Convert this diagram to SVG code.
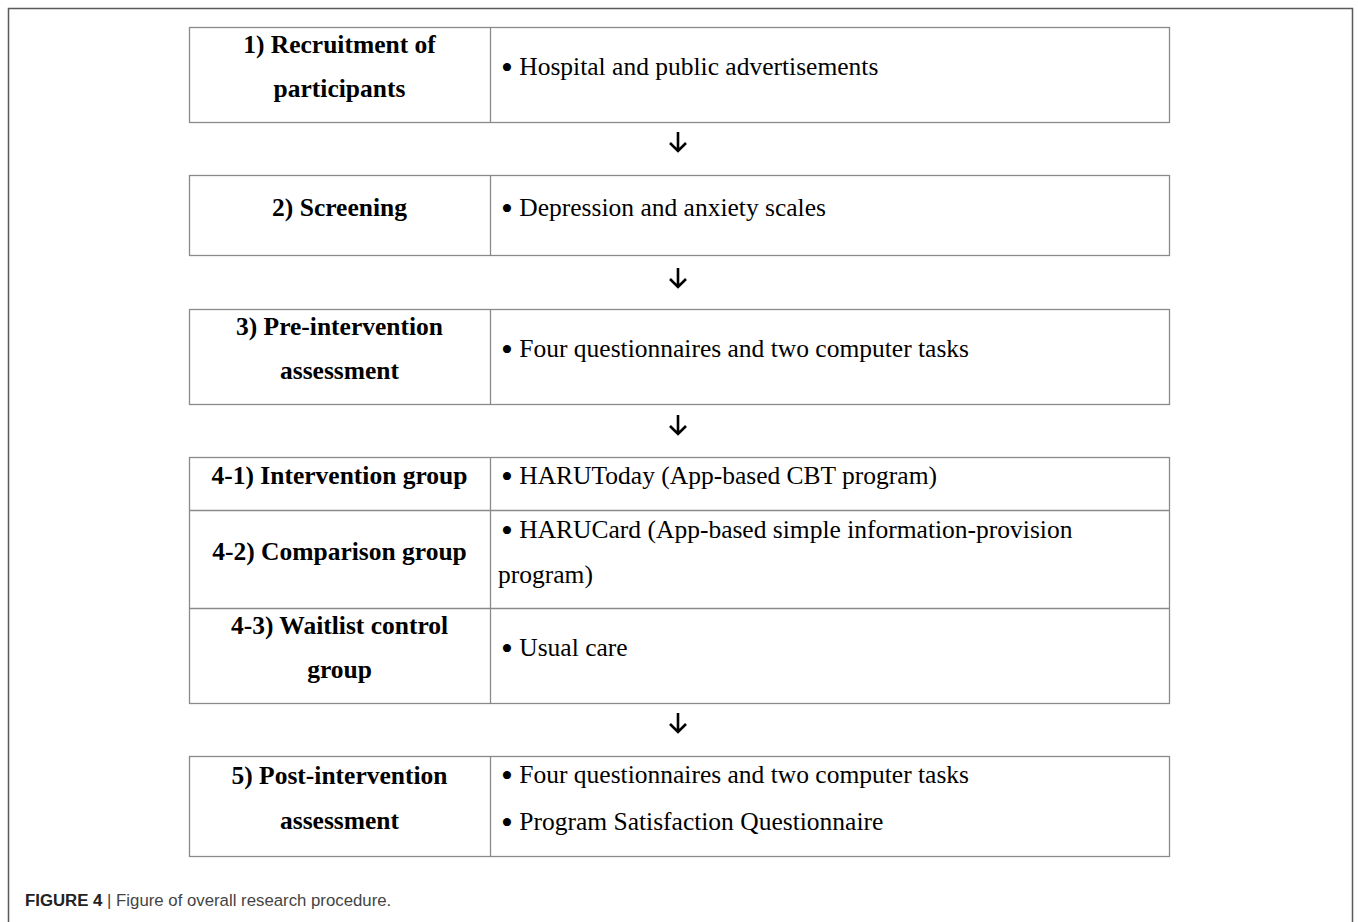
<svg xmlns="http://www.w3.org/2000/svg" width="1358" height="922" viewBox="0 0 1358 922">
<style>
.frame{fill:none;stroke:#5a5a5a;stroke-width:1.5}
.cell{fill:#fff;stroke:#8a8a8a;stroke-width:1.3}
.div{stroke:#8a8a8a;stroke-width:1.3}
.h{font-family:"Liberation Serif","Times New Roman",serif;font-weight:bold;font-size:25.5px;fill:#000;text-anchor:middle}
.t{font-family:"Liberation Serif","Times New Roman",serif;font-size:25.5px;fill:#000}
.b{font-size:34px}
.arr{fill:none;stroke:#000;stroke-width:2.6;stroke-linecap:butt}
.cap1{font-family:"Liberation Sans",Arial,sans-serif;font-weight:bold;font-size:16.8px;fill:#222}
.cap2{font-family:"Liberation Sans",Arial,sans-serif;font-size:16.8px;fill:#444}
</style>
<rect x="0" y="0" width="1358" height="922" fill="#fff"/>
<path class="frame" d="M8.5,930 V8.5 H1352.5 V930"/>

<g id="step1">
<rect class="cell" x="189.5" y="27.5" width="980" height="95"/>
<line class="div" x1="490.5" y1="27.5" x2="490.5" y2="122.5"/>
<text class="h" x="339.5" y="53">1) Recruitment of</text>
<text class="h" x="339.5" y="97">participants</text>
<text class="t" x="501" y="75"><tspan class="b" dy="4">•</tspan><tspan dy="-4"> Hospital and public advertisements</tspan></text>
</g>

<g id="step2">
<rect class="cell" x="189.5" y="175.5" width="980" height="80"/>
<line class="div" x1="490.5" y1="175.5" x2="490.5" y2="255.5"/>
<text class="h" x="339.5" y="216">2) Screening</text>
<text class="t" x="501" y="216"><tspan class="b" dy="4">•</tspan><tspan dy="-4"> Depression and anxiety scales</tspan></text>
</g>

<g id="step3">
<rect class="cell" x="189.5" y="309.5" width="980" height="95"/>
<line class="div" x1="490.5" y1="309.5" x2="490.5" y2="404.5"/>
<text class="h" x="339.5" y="335">3) Pre-intervention</text>
<text class="h" x="339.5" y="379">assessment</text>
<text class="t" x="501" y="357"><tspan class="b" dy="4">•</tspan><tspan dy="-4"> Four questionnaires and two computer tasks</tspan></text>
</g>

<g id="step4">
<rect class="cell" x="189.5" y="457.5" width="980" height="246"/>
<line class="div" x1="490.5" y1="457.5" x2="490.5" y2="703.5"/>
<line class="div" x1="189.5" y1="510.5" x2="1169.5" y2="510.5"/>
<line class="div" x1="189.5" y1="608.5" x2="1169.5" y2="608.5"/>
<text class="h" x="339.5" y="484">4-1) Intervention group</text>
<text class="t" x="501" y="484"><tspan class="b" dy="4">•</tspan><tspan dy="-4"> HARUToday (App-based CBT program)</tspan></text>
<text class="h" x="339.5" y="560">4-2) Comparison group</text>
<text class="t" x="501" y="538"><tspan class="b" dy="4">•</tspan><tspan dy="-4"> HARUCard (App-based simple information-provision</tspan></text>
<text class="t" x="498" y="583">program)</text>
<text class="h" x="339.5" y="634">4-3) Waitlist control</text>
<text class="h" x="339.5" y="678">group</text>
<text class="t" x="501" y="656"><tspan class="b" dy="4">•</tspan><tspan dy="-4"> Usual care</tspan></text>
</g>

<g id="step5">
<rect class="cell" x="189.5" y="756.5" width="980" height="100"/>
<line class="div" x1="490.5" y1="756.5" x2="490.5" y2="856.5"/>
<text class="h" x="339.5" y="784">5) Post-intervention</text>
<text class="h" x="339.5" y="829">assessment</text>
<text class="t" x="501" y="783"><tspan class="b" dy="4">•</tspan><tspan dy="-4"> Four questionnaires and two computer tasks</tspan></text>
<text class="t" x="501" y="830"><tspan class="b" dy="4">•</tspan><tspan dy="-4"> Program Satisfaction Questionnaire</tspan></text>
</g>

<g id="connectors">
<path class="arr" d="M678,132 V151 M670,143 L678,151 L686,143"/>
<path class="arr" d="M678,268 V287 M670,279 L678,287 L686,279"/>
<path class="arr" d="M678,415 V434 M670,426 L678,434 L686,426"/>
<path class="arr" d="M678,713 V732 M670,724 L678,732 L686,724"/>
</g>

<g id="caption">
<text x="25" y="906"><tspan class="cap1">FIGURE 4 </tspan><tspan class="cap2">| Figure of overall research procedure.</tspan></text>
</g>
</svg>
